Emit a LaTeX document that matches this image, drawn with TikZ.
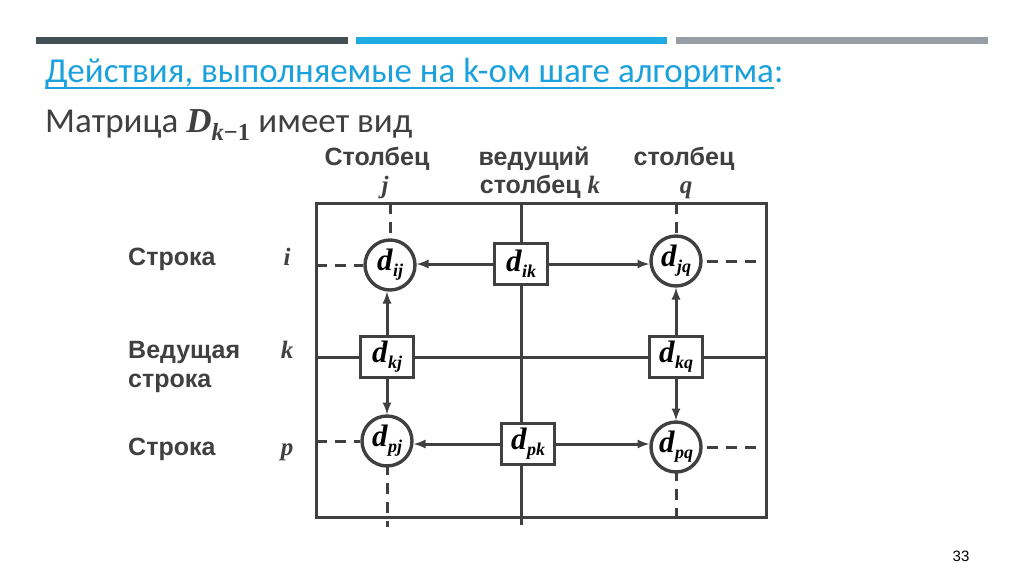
\documentclass[tikz,border=0pt]{standalone}
\usepackage{fontspec}
\setmainfont{Carlito}
\newfontfamily\arialfont{Liberation Sans}
\newfontfamily\mfont{Liberation Serif}
\newcommand{\mv}[1]{{\mfont\bfseries\itshape #1}}
\newcommand{\mel}[2]{\mv{#1}\kern0.5pt\raisebox{-6pt}{\fontsize{18}{18}\selectfont\mv{#2}}}
\usepackage{tikz}
\usetikzlibrary{calc}
\definecolor{tGray}{RGB}{64,64,64}
\definecolor{barDark}{RGB}{67,78,85}
\definecolor{barBlue}{RGB}{29,171,226}
\definecolor{barGray}{RGB}{152,158,165}
\definecolor{titleBlue}{RGB}{27,161,219}
\tikzset{
  mGrid/.style={draw=tGray, line width=3pt},
  mCirc/.style={circle, draw=tGray, line width=3.4pt, fill=white, minimum size=50pt,
                inner sep=0pt, font=\fontsize{31}{33}\selectfont},
  mBox/.style={rectangle, draw=tGray, line width=3.4pt, fill=white, minimum width=53pt,
               minimum height=41pt, inner sep=0pt, font=\fontsize{31}{33}\selectfont},
  mArr/.style={draw=tGray, line width=3pt, -latex},
  mDash/.style={draw=tGray, line width=3pt, dash pattern=on 11pt off 8pt},
  mLbl/.style={anchor=base west, inner sep=0pt, text=tGray,
               font=\arialfont\bfseries\fontsize{25}{27}\selectfont},
  mHdr/.style={mLbl, anchor=base},
  mHead/.style={anchor=base west, inner sep=0pt, font=\fontsize{35}{37}\selectfont},
}

\begin{document}
\begin{tikzpicture}[x=1pt,y=-1pt]
  \useasboundingbox (0,0) rectangle (1024,574);
  % top bars
  \fill[barDark] (36,37) rectangle (348,44);
  \fill[barBlue] (356,37) rectangle (667,44);
  \fill[barGray] (676,37) rectangle (988,44);
  % headings
  \node[mHead, text=titleBlue] (title) at (45,82) {Действия, выполняемые на k-ом шаге алгоритма};
  \node[mHead, text=titleBlue] (colon) at (title.base east) {:};
  \draw[titleBlue, line width=1.5pt] ($(title.base west)+(0,6)$) -- ($(title.base east)+(0,6)$);
  \node[mHead, text=tGray] (subT) at (45,132) {Матрица \mv{D}\textsubscript{\mv{k}{\mfont\bfseries −1}} имеет вид};

  % column and row labels
  \node[mHdr] (hJa) at (377,165) {Столбец};
  \node[mHdr] (hJb) at (385,193) {\mv{j}};
  \node[mHdr] (hKa) at (534,165) {ведущий};
  \node[mHdr] (hKb) at (540,193) {столбец \mv{k}};
  \node[mHdr] (hQa) at (684,165) {столбец};
  \node[mHdr] (hQb) at (686,193) {\mv{q}};
  \node[mLbl] (rI)  at (128,265) {Строка};
  \node[mHdr] (rIx) at (287,265) {\mv{i}};
  \node[mLbl] (rKa) at (128,358) {Ведущая};
  \node[mLbl] (rKb) at (128,387) {строка};
  \node[mHdr] (rKx) at (287,358) {\mv{k}};
  \node[mLbl] (rP)  at (128,455) {Строка};
  \node[mHdr] (rPx) at (287,455) {\mv{p}};

  % matrix frame and leading row / column
  \coordinate (bNW) at (316,203);
  \coordinate (bSE) at (766,517);
  \draw[mGrid] (bNW) rectangle (bSE);
  \draw[mGrid] (521,203) -- (521,525);
  \draw[mGrid] (316,357) -- (766,357);

  % elements
  \node[mCirc] (dij) at (390,265) {\mel{d}{ij}};
  \node[mBox]  (dik) at (521,264) {\mel{d}{ik}};
  \node[mCirc] (djq) at (676,261) {\mel{d}{jq}};
  \node[mBox]  (dkj) at (387,357) {\mel{d}{kj}};
  \node[mBox]  (dkq) at (676,357) {\mel{d}{kq}};
  \node[mCirc] (dpj) at (387,441) {\mel{d}{pj}};
  \node[mBox]  (dpk) at (528,444) {\mel{d}{pk}};
  \node[mCirc] (dpq) at (676,447) {\mel{d}{pq}};

  % updates
  \draw[mArr] (dik.west) -- (dij.east |- dik.west);
  \draw[mArr] (dik.east) -- (djq.west |- dik.east);
  \draw[mArr] (dkj.north) -- (dkj.north |- dij.south);
  \draw[mArr] (dkq) -- (djq);
  \draw[mArr] (dkj) -- (dpj);
  \draw[mArr] (dkq) -- (dpq);
  \draw[mArr] (dpk.west) -- (dpj.east |- dpk.west);
  \draw[mArr] (dpk.east) -- (dpq.west |- dpk.east);

  % rows and columns going on
  \draw[mDash] (dij.north |- bNW) -- (dij.north);
  \draw[mDash] (djq.north |- bNW) -- (djq.north);
  \draw[mDash] (dij.west -| bNW) -- (dij.west);
  \draw[mDash] (dpj.west -| bNW) -- (dpj.west);
  \draw[mDash] ([xshift=4pt]djq.east) -- ([xshift=-6pt]djq.east -| bSE);
  \draw[mDash] ([xshift=4pt]dpq.east) -- ([xshift=-6pt]dpq.east -| bSE);
  \draw[mDash] ([yshift=4pt]dpj.south) -- ([yshift=-10pt]dpj.south |- bSE);
  \draw[mDash] ([yshift=4pt]dpq.south) -- ([yshift=-4pt]dpq.south |- bSE);

  \node[text=black, font=\arialfont\fontsize{15}{17}\selectfont] (pgNo) at (961,556) {33};
\end{tikzpicture}
\end{document}
